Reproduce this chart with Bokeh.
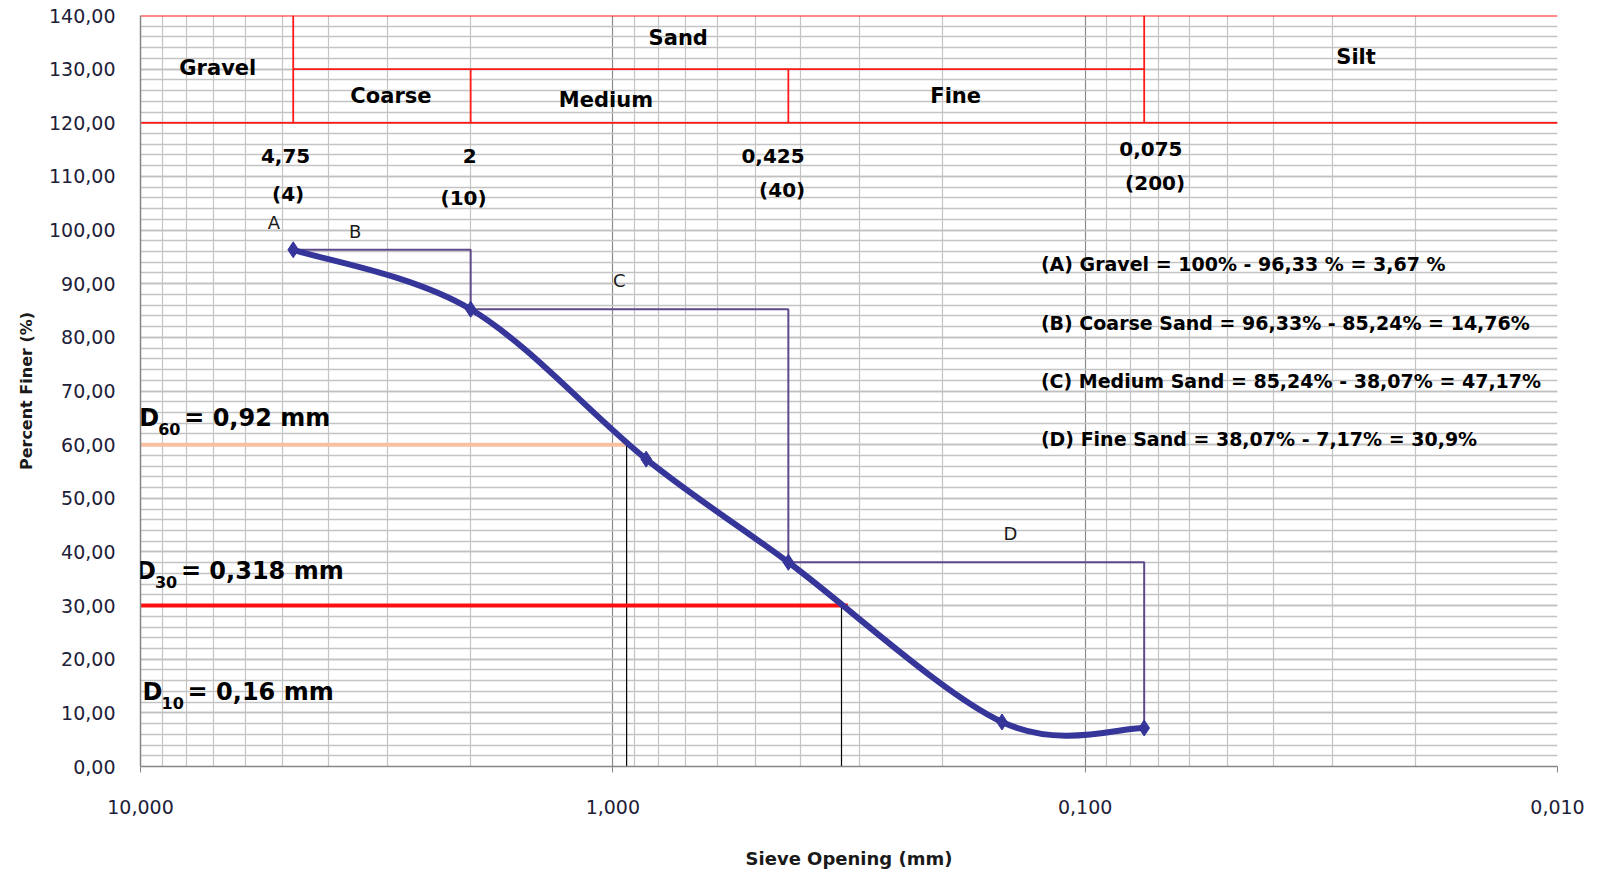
import numpy as np
from bokeh.plotting import figure
from bokeh.models import Range1d, FixedTicker, CustomJSTickFormatter, ColumnDataSource, Label
from bokeh.core.properties import value
from bokeh.embed import file_html
from bokeh.resources import INLINE

# ---------------- data ----------------
sieve_mm = [4.75, 2.0, 0.85, 0.425, 0.15, 0.075]
percent_finer = [96.33, 85.24, 57.3, 38.07, 8.3, 7.17]

# class boundaries (sieve No. 4, 10, 40, 200)
class_bounds_mm = [4.75, 2.0, 0.425, 0.075]
class_bounds_pf = [96.33, 85.24, 38.07, 7.17]
sieve_size_labels = ["4,75", "2", "0,425", "0,075"]
sieve_no_labels = ["(4)", "(10)", "(40)", "(200)"]
sieve_size_lab_x = [4.93, 2.01, 0.458, 0.0726]
sieve_size_lab_y = [113.8, 113.8, 113.8, 115.1]
sieve_no_lab_x = [4.87, 2.07, 0.438, 0.0711]
sieve_no_lab_y = [106.8, 106.0, 107.5, 108.7]

# soil class header
header_names = ["Gravel", "Sand", "Silt", "Coarse", "Medium", "Fine"]
header_x = [6.86, 0.727, 0.0267, 2.95, 1.034, 0.188]
header_y = [130.3, 135.8, 132.2, 125.0, 124.2, 125.0]

# A/B/C/D letters
letters = ["A", "B", "C", "D"]
letter_x = [5.22, 3.51, 0.969, 0.144]
letter_y = [101.4, 99.7, 90.6, 43.5]

# fraction annotations
frac_texts = [
    "(A) Gravel = 100% - 96,33 % = 3,67 %",
    "(B) Coarse Sand = 96,33% - 85,24% = 14,76%",
    "(C) Medium Sand = 85,24% - 38,07% = 47,17%",
    "(D) Fine Sand = 38,07% -  7,17% = 30,9%",
]
frac_x = [0.1241] * 4
frac_y = [93.6, 82.6, 71.8, 61.0]

# D-values
d_names = ["60", "30", "10"]
d_values = ["0,92", "0,318", "0,16"]
d_label_y = [65.0, 36.5, 13.85]
d_label_dx = [-1.3, -4.6, 2.1]
d_line_levels = [60, 30]
d_line_hend = [0.92, 0.318]
d_line_vx = [0.935, 0.328]
d_line_colors = ["#F8BFA0", "#FF1010"]

x_major = [10, 1, 0.1, 0.01]
x_minor = [m * 10.0 ** e for e in (-2, -1, 0) for m in range(2, 10)]
y_major = list(range(0, 141, 10))
y_minor = list(range(0, 141, 2))

# ---------------- figure ----------------
p = figure(width=1596, height=876, x_axis_type="log",
           x_range=Range1d(10, 0.01), y_range=Range1d(0, 140),
           output_backend="svg", toolbar_location=None,
           min_border_left=140, min_border_right=39,
           min_border_top=15, min_border_bottom=110)
p.outline_line_color = None
p.background_fill_color = "white"
p.border_fill_color = "white"

# grids
p.xgrid.ticker = FixedTicker(ticks=x_major, minor_ticks=x_minor)
p.xgrid.grid_line_color = "#8a8a8a"
p.xgrid.grid_line_width = 1.2
p.xgrid.minor_grid_line_color = "#c4c4c4"
p.xgrid.minor_grid_line_width = 1.2
p.ygrid.ticker = FixedTicker(ticks=y_major, minor_ticks=y_minor)
p.ygrid.grid_line_color = "#c0c0c0"
p.ygrid.grid_line_width = 1.4
p.ygrid.minor_grid_line_color = "#c4c4c4"
p.ygrid.minor_grid_line_width = 1.4

# axes
p.xaxis.ticker = FixedTicker(ticks=x_major, minor_ticks=[])
p.xaxis.formatter = CustomJSTickFormatter(code="return tick.toFixed(3).replace('.', ',')")
p.yaxis.ticker = FixedTicker(ticks=y_major, minor_ticks=[])
p.yaxis.formatter = CustomJSTickFormatter(code="return tick.toFixed(2).replace('.', ',')")
for ax in (p.xaxis[0], p.yaxis[0]):
    ax.axis_line_color = "#868686"
    ax.axis_line_width = 1.5
    ax.major_tick_line_color = "#868686"
    ax.minor_tick_out = 0
    ax.minor_tick_in = 0
    ax.major_tick_in = 0
    ax.major_label_text_font = "DejaVu Sans"
    ax.major_label_text_font_size = "19px"
    ax.major_label_text_color = "#202038"
    ax.axis_label_text_font = "DejaVu Sans"
    ax.axis_label_text_font_style = "bold"
    ax.axis_label_text_color = "#1a1a1a"
p.xaxis.major_tick_out = 6
p.xaxis.major_label_standoff = 27
p.xaxis.axis_label = "Sieve Opening (mm)"
p.xaxis.axis_label_text_font_size = "18px"
p.xaxis.axis_label_standoff = 31
p.yaxis.major_tick_out = 0
p.yaxis.major_label_standoff = 25
p.yaxis.axis_label = "Percent Finer (%)"
p.yaxis.axis_label_text_font_size = "16px"
p.yaxis.axis_label_standoff = 10

# header red lines
hx0 = [10, 10, class_bounds_mm[0], class_bounds_mm[0], class_bounds_mm[1], class_bounds_mm[2], class_bounds_mm[3]]
hx1 = [0.01, 0.01, class_bounds_mm[3], class_bounds_mm[0], class_bounds_mm[1], class_bounds_mm[2], class_bounds_mm[3]]
hy0 = [140, 120, 130, 120, 120, 120, 120]
hy1 = [140, 120, 130, 140, 130, 130, 140]
p.segment(hx0, hy0, hx1, hy1, line_color="#FF1A1A", line_width=1.8)

# D60 / D30 lines
for lvl, hend, vx, col in zip(d_line_levels, d_line_hend, d_line_vx, d_line_colors):
    p.segment([10], [lvl], [hend], [lvl], line_color=col, line_width=4)
    p.segment([vx], [lvl], [vx], [0], line_color="black", line_width=1.2)

# step boxes
bx, by = [class_bounds_mm[0]], [class_bounds_pf[0]]
for i in range(1, len(class_bounds_mm)):
    bx += [class_bounds_mm[i], class_bounds_mm[i]]
    by += [class_bounds_pf[i - 1], class_bounds_pf[i]]
p.line(bx, by, line_color="#5E4A8A", line_width=2)

# smoothed gradation curve (Excel-like Catmull-Rom bezier in log space)
lx = np.log10(sieve_mm)
yy = np.array(percent_finer)
n = len(lx)
seg = dict(x0=[], y0=[], x1=[], y1=[], cx0=[], cy0=[], cx1=[], cy1=[])
for i in range(n - 1):
    ip, inx = max(i - 1, 0), min(i + 2, n - 1)
    c1x = lx[i] + (lx[i + 1] - lx[ip]) / 6
    c1y = yy[i] + (yy[i + 1] - yy[ip]) / 6
    c2x = lx[i + 1] - (lx[inx] - lx[i]) / 6
    c2y = yy[i + 1] - (yy[inx] - yy[i]) / 6
    seg["x0"].append(10 ** lx[i]); seg["y0"].append(yy[i])
    seg["x1"].append(10 ** lx[i + 1]); seg["y1"].append(yy[i + 1])
    seg["cx0"].append(10 ** c1x); seg["cy0"].append(c1y)
    seg["cx1"].append(10 ** c2x); seg["cy1"].append(c2y)
p.bezier(x0="x0", y0="y0", x1="x1", y1="y1", cx0="cx0", cy0="cy0", cx1="cx1", cy1="cy1",
         source=ColumnDataSource(seg), line_color="#35359A", line_width=6, line_cap="round")
p.scatter(sieve_mm, percent_finer, marker="diamond", size=16,
          fill_color="#35359A", line_color="#35359A")

# texts
bold = dict(text_font=value("DejaVu Sans"), text_font_style="bold",
            text_align="center", text_baseline="middle", text_color="black")
p.text(header_x, header_y, text=header_names, text_font_size="21px", **bold)
p.text(sieve_size_lab_x, sieve_size_lab_y, text=sieve_size_labels, text_font_size="20px", **bold)
p.text(sieve_no_lab_x, sieve_no_lab_y, text=sieve_no_labels, text_font_size="20px", **bold)
p.text(letter_x, letter_y, text=letters, text_font=value("DejaVu Sans"), text_font_size="18px",
       text_align="center", text_baseline="middle", text_color="#1a1a1a")
p.text(frac_x, frac_y, text=frac_texts, text_font=value("DejaVu Sans"), text_font_style="bold",
       text_font_size="19px", text_align="left", text_baseline="middle", text_color="black")

for name, val, ly, dx in zip(d_names, d_values, d_label_y, d_label_dx):
    common = dict(x=10, text_font="DejaVu Sans", text_font_style="bold",
                  text_baseline="middle", text_align="left", text_color="black")
    p.add_layout(Label(y=ly, text="D", x_offset=dx, text_font_size="24px", **common))
    p.add_layout(Label(y=ly - 2.1, text=name, x_offset=dx + 19, text_font_size="16px", **common))
    p.add_layout(Label(y=ly, text="= " + val + " mm", x_offset=dx + 45, text_font_size="24px", **common))

open("out.html", "w").write(file_html(p, INLINE))
